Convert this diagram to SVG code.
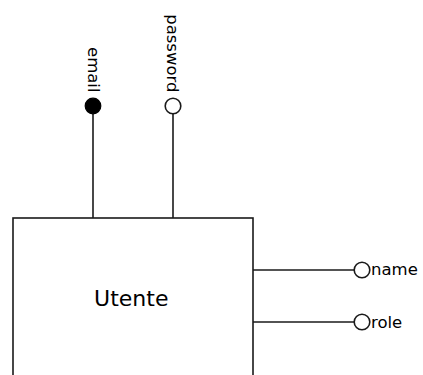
<svg xmlns="http://www.w3.org/2000/svg" width="423" height="375" viewBox="0 0 423 375">
<style>
.ln{stroke:#1a1a1a;stroke-width:1.6;fill:none}
.oc{stroke:#1a1a1a;stroke-width:1.6;fill:#fff}
.fc{stroke:#000;stroke-width:1.2;fill:#000}
.box{stroke:#1a1a1a;stroke-width:1.6;fill:#fff}
.t{font-family:"DejaVu Sans",Verdana,sans-serif;fill:#000}
.a{font-size:16.5px}
.m{font-size:22px}
</style>
<rect width="423" height="375" fill="#fff"/>
<g id="connectors">
<line class="ln" x1="93" y1="114" x2="93" y2="218"/>
<line class="ln" x1="173" y1="114" x2="173" y2="218"/>
<line class="ln" x1="253" y1="270" x2="354" y2="270"/>
<line class="ln" x1="253" y1="322" x2="354" y2="322"/>
</g>
<g id="utente">
<rect class="box" x="13" y="218" width="240" height="180"/>
<text class="t m" x="131.3" y="306" text-anchor="middle">Utente</text>
</g>
<g id="attr-email">
<circle class="fc" cx="93" cy="106" r="7.8"/>
<text class="t a" transform="translate(87.5,92.5) rotate(90)" text-anchor="end">email</text>
</g>
<g id="attr-password">
<circle class="oc" cx="173" cy="106" r="7.8"/>
<text class="t a" transform="translate(167.3,92.5) rotate(90)" text-anchor="end">password</text>
</g>
<g id="attr-name">
<circle class="oc" cx="362" cy="270" r="7.8"/>
<text class="t a" x="371" y="275">name</text>
</g>
<g id="attr-role">
<circle class="oc" cx="362" cy="322" r="7.8"/>
<text class="t a" x="371" y="327.5">role</text>
</g>
</svg>
